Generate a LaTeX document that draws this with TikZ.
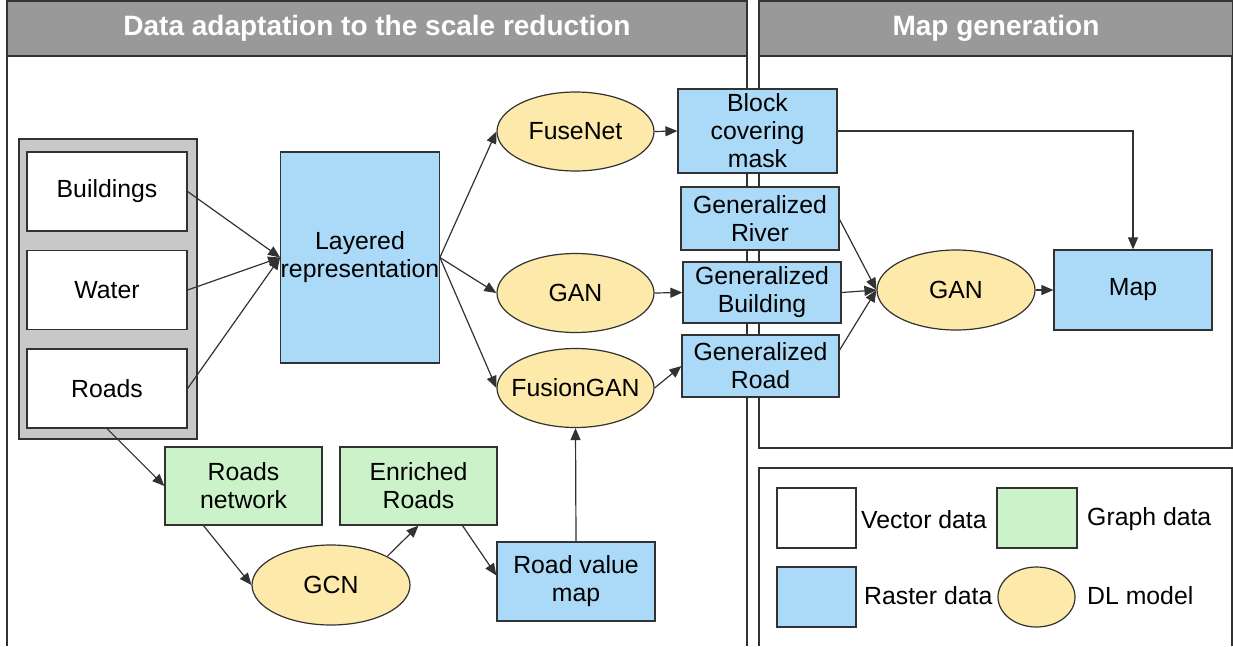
\documentclass[tikz,border=0pt]{standalone}
\usepackage{fontspec}
\setmainfont{Liberation Sans}
\usetikzlibrary{shapes.geometric,arrows.meta}
\definecolor{rasterblue}{RGB}{170,218,247}
\definecolor{graphgreen}{RGB}{204,242,201}
\definecolor{modelyellow}{RGB}{253,233,170}
\definecolor{headgray}{RGB}{153,153,153}
\definecolor{contgray}{RGB}{200,200,200}
\definecolor{edgegray}{RGB}{50,50,50}
\begin{document}
\begin{tikzpicture}[x=1pt,y=-1pt,
  every node/.style={font=\fontsize{24.8}{28}\selectfont, inner sep=0pt, align=center},
  base/.style={draw=edgegray, line width=1.2pt},
  vecbox/.style={base, rectangle, fill=white, minimum width=160pt, minimum height=79pt},
  rasbox/.style={base, rectangle, fill=rasterblue},
  grabox/.style={base, rectangle, fill=graphgreen, minimum width=157pt, minimum height=78pt},
  model/.style={base, ellipse, fill=modelyellow, inner xsep=-25pt, inner ysep=-4pt, minimum width=157pt, minimum height=79pt},
  header/.style={base, rectangle, fill=headgray, text=white, font=\fontsize{28}{32}\selectfont\bfseries, minimum height=55pt},
  arr/.style={draw=edgegray, line width=1.2pt, -{Triangle[length=12pt,width=10pt]}},
  lbl/.style={anchor=west}]
\useasboundingbox (0,0) rectangle (1233,646);
% panels
\draw[base] (7,56) -- (7,646);
\draw[base] (747,56) -- (747,646);
\draw[base] (759,56) rectangle (1232,448);
\draw[base] (759,646) -- (759,468) -- (1232,468) -- (1232,646);
\node[header, minimum width=740pt] (h1) at (377,28.5) {Data adaptation to the scale reduction};
\node[header, minimum width=474pt] (h2) at (996,28.5) {Map generation};
% vector container
\draw[base, fill=contgray] (19,139) rectangle (197,439);
\node[vecbox] (buildings) at (107,191.5) {Buildings};
\node[vecbox] (water) at (107,290) {Water};
\node[vecbox] (roads) at (107,388.5) {Roads};
% raster / models
\node[rasbox, minimum width=158pt, minimum height=211pt] (layered) at (360,257.5) {Layered\\representation};
\node[model] (fusenet) at (575.5,131.5) {FuseNet};
\node[model] (gan1) at (575.5,293) {GAN};
\node[model] (fusiongan) at (575.5,388) {FusionGAN};
\node[rasbox, minimum width=159pt, minimum height=84pt] (block) at (757.5,131) {Block\\covering\\mask};
\node[rasbox, minimum width=158pt, minimum height=63pt] (river) at (760,218.5) {Generalized\\River};
\node[rasbox, minimum width=158pt, minimum height=61pt] (building) at (762,292.5) {Generalized\\Building};
\node[rasbox, minimum width=157pt, minimum height=62pt] (road) at (760.5,366) {Generalized\\Road};
\node[model, minimum width=158pt, minimum height=80pt] (gan2) at (956,290) {GAN};
\node[rasbox, minimum width=158pt, minimum height=80pt] (map) at (1133,290) {Map};
% bottom
\node[grabox] (roadsnet) at (243.5,486) {Roads\\network};
\node[grabox] (enriched) at (418.5,486) {Enriched\\Roads};
\node[model, minimum width=158pt, minimum height=80pt] (gcn) at (331,585) {GCN};
\node[rasbox, minimum width=158pt, minimum height=79pt] (rvm) at (576,581.5) {Road value\\map};
% connectors
\draw[arr] (buildings.east) -- (layered.west);
\draw[arr] (water.east) -- (layered.west);
\draw[arr] (roads.east) -- (layered.west);
\draw[arr] (layered.east) -- (fusenet.west);
\draw[arr] (layered.east) -- (gan1.west);
\draw[arr] (layered.east) -- (fusiongan.west);
\draw[arr] (fusenet.east) -- (block.west);
\draw[arr] (gan1.east) -- (building.west);
\draw[arr] (fusiongan.east) -- (road.west);
\draw[arr] ([yshift=-1pt]river.east) -- (gan2.west);
\draw[arr] (building.east) -- (gan2.west);
\draw[arr] ([yshift=16pt]road.east) -- (gan2.west);
\draw[arr] (gan2.east) -- (map.west);
\draw[arr] (block.east) -| (map.north);
\draw[arr] (roads.south) -- (roadsnet.west);
\draw[arr] ([xshift=-40pt]roadsnet.south) -- (gcn.west);
\draw[arr] (gcn.north east) -- (enriched.south);
\draw[arr] ([xshift=44pt]enriched.south) -- ([yshift=6pt]rvm.west);
\draw[arr] (rvm.north) -- (fusiongan.south);
% legend
\node[base, rectangle, fill=white, minimum width=79pt, minimum height=60pt] (lvec) at (816.5,518) {};
\node[lbl] (lvect) at (861,520) {Vector data};
\node[base, rectangle, fill=graphgreen, minimum width=80pt, minimum height=60pt] (lgra) at (1037,518) {};
\node[lbl] (lgrat) at (1087,519) {Graph data};
\node[base, rectangle, fill=rasterblue, minimum width=79pt, minimum height=60pt] (lras) at (816.5,597) {};
\node[lbl] (lrast) at (864,596) {Raster data};
\node[base, ellipse, fill=modelyellow, minimum width=77pt, minimum height=60pt] (lmod) at (1036.5,597) {};
\node[lbl] (lmodt) at (1087,596) {DL model};
\end{tikzpicture}
\end{document}
